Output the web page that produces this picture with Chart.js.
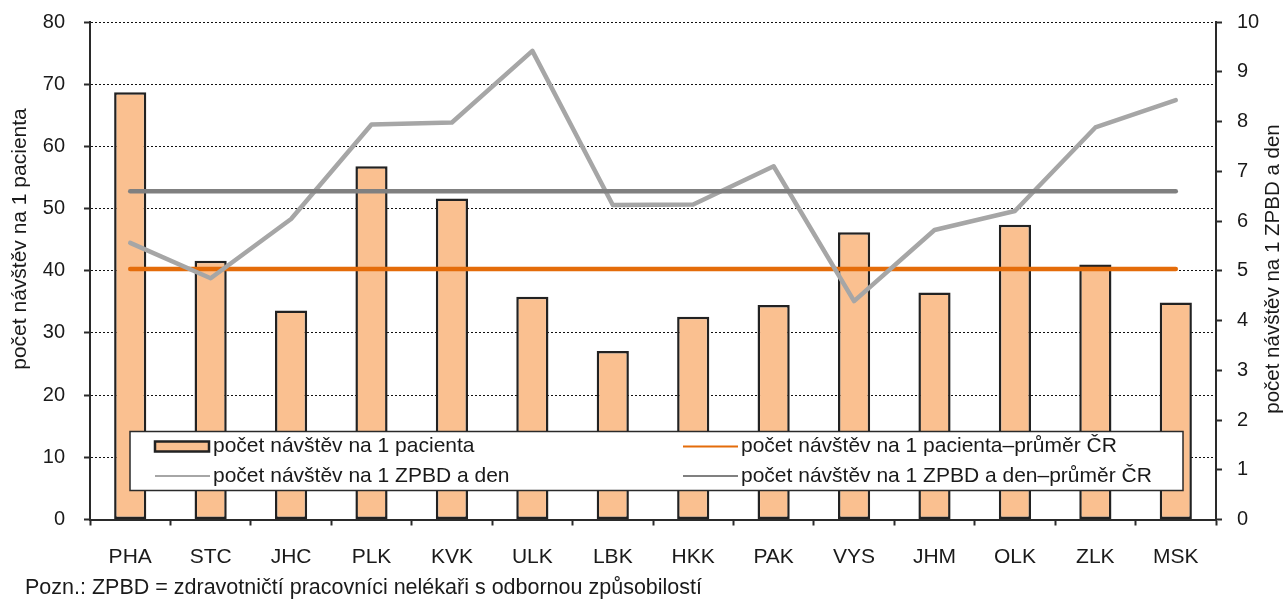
<!DOCTYPE html>
<html>
<head>
<meta charset="utf-8">
<script src="https://cdn.jsdelivr.net/npm/chart.js@4.4.1/dist/chart.umd.min.js"></script>
<style>
  html, body { margin: 0; padding: 0; background: #ffffff; }
  #wrap { width: 1286px; height: 601px; position: relative; }
  canvas { display: block; }
</style>
</head>
<body>
<div id="wrap"><canvas id="chart" width="1286" height="601"></canvas></div>
<script>
// ---- data ----
const categories = ['PHA', 'STC', 'JHC', 'PLK', 'KVK', 'ULK', 'LBK', 'HKK', 'PAK', 'VYS', 'JHM', 'OLK', 'ZLK', 'MSK'];
const visitsPerPatient = [68.7, 41.6, 33.6, 56.8, 51.6, 35.8, 27.1, 32.6, 34.5, 46.2, 36.5, 47.4, 41.0, 34.9];
const visitsPerPatientAvg = 40.3;
const visitsPerZpbd = [5.56, 4.85, 6.04, 7.94, 7.98, 9.42, 6.32, 6.33, 7.10, 4.39, 5.82, 6.20, 7.88, 8.43];
const visitsPerZpbdAvg = 6.60;
const leftTicks = [0, 10, 20, 30, 40, 50, 60, 70, 80];
const rightTicks = [0, 1, 2, 3, 4, 5, 6, 7, 8, 9, 10];
const seriesLabels = [
  'počet návštěv na 1 pacienta',
  'počet návštěv na 1 pacienta–průměr ČR',
  'počet návštěv na 1 ZPBD a den',
  'počet návštěv na 1 ZPBD a den–průměr ČR'
];
const leftTitle = 'počet návštěv na 1 pacienta';
const rightTitle = 'počet návštěv na 1 ZPBD a den';
const footnote = 'Pozn.: ZPBD = zdravotničtí pracovníci nelékaři s odbornou způsobilostí';

// ---- styling ----
const FONT = '"Liberation Sans", Arial, sans-serif';
const TEXT = '#1a1a1a';
const AXIS = '#2a2a2a';

const decor = {
  id: 'decor',
  afterDatasetsDraw(chart) {
    const ctx = chart.ctx;
    const ds = chart.data.datasets;
    // legend box
    const bx = 130, by = 431.5, bw = 1053, bh = 59;
    ctx.save();
    ctx.fillStyle = '#ffffff';
    ctx.fillRect(bx, by, bw, bh);
    ctx.strokeStyle = AXIS;
    ctx.lineWidth = 1.5;
    ctx.strokeRect(bx, by, bw, bh);
    const cols = [155, 683];
    const rows = [446.5, 476];
    ctx.font = '21px ' + FONT;
    ctx.textBaseline = 'middle';
    ctx.textAlign = 'left';
    ds.forEach((d, i) => {
      const cx = cols[i % 2], cy = rows[Math.floor(i / 2)];
      if (d.type === 'bar') {
        ctx.fillStyle = d.backgroundColor;
        ctx.fillRect(cx, cy - 5, 54, 10);
        ctx.strokeStyle = d.borderColor;
        ctx.lineWidth = 2.5;
        ctx.strokeRect(cx, cy - 5, 54, 10);
      } else {
        ctx.strokeStyle = d.borderColor;
        ctx.lineWidth = 2;
        ctx.beginPath();
        ctx.moveTo(cx, cy);
        ctx.lineTo(cx + 55, cy);
        ctx.stroke();
      }
      ctx.fillStyle = TEXT;
      ctx.fillText(d.label, cx + 58, cy);
    });
    ctx.restore();
  },
  afterDraw(chart) {
    const ctx = chart.ctx;
    ctx.save();
    ctx.fillStyle = TEXT;
    ctx.textAlign = 'center';
    ctx.textBaseline = 'middle';
    // left axis title
    ctx.font = '21px ' + FONT;
    ctx.save();
    ctx.translate(20, 239);
    ctx.rotate(-Math.PI / 2);
    ctx.fillText(leftTitle, 0, 0);
    ctx.restore();
    // right axis title
    ctx.font = '20.5px ' + FONT;
    ctx.save();
    ctx.translate(1273, 269);
    ctx.rotate(-Math.PI / 2);
    ctx.fillText(rightTitle, 0, 0);
    ctx.restore();
    // footnote
    ctx.font = '21.5px ' + FONT;
    ctx.textAlign = 'left';
    ctx.fillText(footnote, 25, 588);
    ctx.restore();
  }
};

new Chart(document.getElementById('chart'), {
  data: {
    labels: categories,
    datasets: [
      {
        type: 'bar',
        label: seriesLabels[0],
        data: visitsPerPatient,
        yAxisID: 'y',
        backgroundColor: '#FAC090',
        borderColor: '#222222',
        borderWidth: 2.5,
        borderSkipped: false,
        barPercentage: 0.4,
        categoryPercentage: 1,
        order: 4
      },
      {
        type: 'line',
        label: seriesLabels[1],
        data: categories.map(() => visitsPerPatientAvg),
        yAxisID: 'y',
        borderColor: '#E46C0A',
        borderWidth: 4.5,
        pointRadius: 0,
        tension: 0,
        fill: false,
        borderCapStyle: 'round',
        borderJoinStyle: 'round',
        order: 3
      },
      {
        type: 'line',
        label: seriesLabels[2],
        data: visitsPerZpbd,
        yAxisID: 'y1',
        borderColor: '#A6A6A6',
        borderWidth: 4.5,
        pointRadius: 0,
        tension: 0,
        fill: false,
        borderCapStyle: 'round',
        borderJoinStyle: 'round',
        order: 2
      },
      {
        type: 'line',
        label: seriesLabels[3],
        data: categories.map(() => visitsPerZpbdAvg),
        yAxisID: 'y1',
        borderColor: '#808080',
        borderWidth: 4.5,
        pointRadius: 0,
        tension: 0,
        fill: false,
        borderCapStyle: 'round',
        borderJoinStyle: 'round',
        order: 1
      }
    ]
  },
  options: {
    responsive: false,
    animation: false,
    devicePixelRatio: 1,
    layout: { padding: { top: 22, left: 0, right: 0, bottom: 0 } },
    plugins: {
      legend: { display: false },
      title: { display: false },
      tooltip: { enabled: false }
    },
    scales: {
      x: {
        type: 'category',
        position: 'bottom',
        offset: true,
        grid: {
          offset: true,
          drawOnChartArea: false,
          drawTicks: true,
          tickLength: 6,
          tickColor: AXIS,
          tickWidth: 2
        },
        border: { display: true, color: AXIS, width: 2 },
        ticks: {
          color: TEXT,
          font: { family: FONT, size: 21 },
          padding: 19,
          maxRotation: 0,
          autoSkip: false
        },
        afterFit(s) { s.height = 81.5; s.paddingLeft = 0; s.paddingRight = 0; }
      },
      y: {
        type: 'linear',
        position: 'left',
        min: 0,
        max: 80,
        afterBuildTicks(s) { s.ticks = leftTicks.map(v => ({ value: v })); },
        grid: {
          drawOnChartArea: true,
          drawTicks: true,
          tickLength: 6,
          tickColor: AXIS,
          tickWidth: 2,
          tickBorderDash: [],
          lineWidth: 1,
          color: (c) => (c.tick && c.tick.value === 0) ? 'rgba(0,0,0,0)' : '#111111'
        },
        border: { display: true, color: AXIS, width: 2, dash: [2, 2] },
        ticks: {
          color: TEXT,
          font: { family: FONT, size: 20 },
          padding: 19
        },
        afterFit(s) { s.width = 90; s.paddingTop = 0; s.paddingBottom = 0; }
      },
      y1: {
        type: 'linear',
        position: 'right',
        min: 0,
        max: 10,
        afterBuildTicks(s) { s.ticks = rightTicks.map(v => ({ value: v })); },
        grid: {
          drawOnChartArea: false,
          drawTicks: true,
          tickLength: 6,
          tickColor: AXIS,
          tickWidth: 2
        },
        border: { display: true, color: AXIS, width: 2 },
        ticks: {
          color: TEXT,
          font: { family: FONT, size: 20 },
          padding: 15
        },
        afterFit(s) { s.width = 70; s.paddingTop = 0; s.paddingBottom = 0; }
      }
    }
  },
  plugins: [decor]
});
</script>
</body>
</html>
